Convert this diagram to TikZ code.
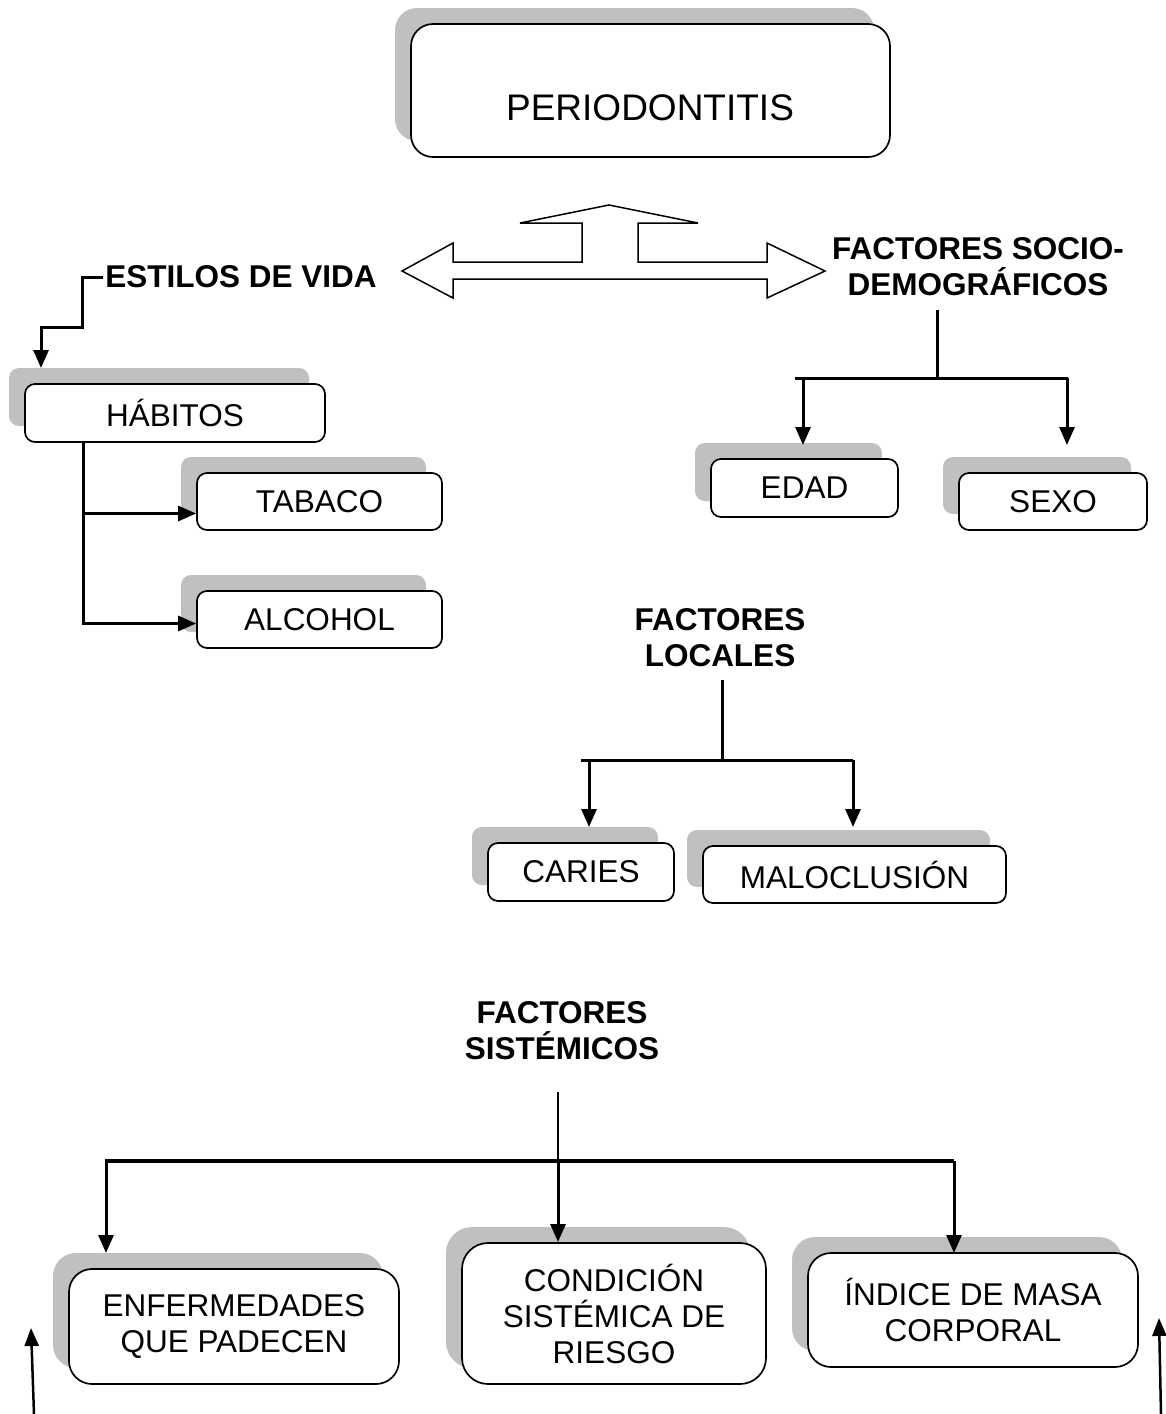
\documentclass[tikz,border=0pt]{standalone}
\usepackage{fontspec}
\setmainfont{Liberation Sans}
\usetikzlibrary{arrows.meta,shadows}
\definecolor{shadegray}{RGB}{192,192,192}
\begin{document}
\begin{tikzpicture}[x=1pt,y=-1pt,
  card/.style={draw=black, line width=1.7pt, fill=white, inner sep=0pt, align=center,
    rounded corners=10pt,
    font=\fontsize{31.5}{36}\selectfont,
    drop shadow={shadow xshift=-16pt, shadow yshift=16pt, fill=shadegray, opacity=1}},
  bigcard/.style={card, rounded corners=23pt},
  heading/.style={font=\fontsize{31.5}{36}\selectfont\bfseries, align=center, inner sep=2pt},
  link/.style={line width=3pt, line join=miter},
  thinlink/.style={line width=1.2pt},
  barlink/.style={line width=4.5pt},
  arrowlink/.style={link, -{Triangle[length=18pt,width=15pt]}},
  looselink/.style={line width=2.5pt, -{Triangle[length=18pt,width=14pt]}},
]
% page frame
\useasboundingbox (0,0) rectangle (1165,1414);
\fill[white] (0,0) rectangle (1165,1414);

% ---- top box ----
\node[card, rounded corners=22pt, minimum width=479pt, minimum height=133pt] (peri) at (650.5,90.5) {};
\node[font=\fontsize{37}{40}\selectfont, inner sep=0pt] (peritxt) at (650,108) {PERIODONTITIS};

% ---- three-way block arrow ----
\draw[line width=1.5pt, line join=miter, fill=white]
  (609,205) -- (698,223) -- (638,223) -- (638,262) -- (767,262) -- (767,243)
  -- (825,271) -- (767,298) -- (767,279) -- (453,279) -- (453,298) -- (402,271)
  -- (453,243) -- (453,262) -- (582,262) -- (582,223) -- (520,223) -- cycle;

% ---- headings ----
\node[heading] (estilos) at (241,277) {ESTILOS DE VIDA};
\node[heading] (socio) at (978,267) {FACTORES SOCIO-\\DEMOGRÁFICOS};
\node[heading] (locales) at (720,638) {FACTORES\\LOCALES};
\node[heading] (sistem) at (562,1031) {FACTORES\\SISTÉMICOS};

% ---- lifestyle branch ----
\node[card, minimum width=300pt, minimum height=58pt] (hab) at (175,413) {HÁBITOS};
\node[card, minimum width=245pt, minimum height=57pt] (tab) at (319.5,501.5) {TABACO};
\node[card, minimum width=245pt, minimum height=57pt] (alc) at (319.5,619.5) {ALCOHOL};

% ---- socio-demographic branch ----
\node[card, minimum width=187pt, minimum height=58pt] (edad) at (804.5,488) {EDAD};
\node[card, minimum width=188pt, minimum height=57pt] (sexo) at (1053,501.5) {SEXO};

% ---- local branch ----
\node[card, minimum width=186pt, minimum height=58pt] (caries) at (581,872) {CARIES};
\node[card, minimum width=303pt, minimum height=57pt] (malo) at (854.5,874.5) {MALOCLUSIÓN};

% ---- systemic branch ----
\node[bigcard, minimum width=330pt, minimum height=115pt] (enf) at (234,1326.5) {ENFERMEDADES\\QUE PADECEN};
\node[bigcard, rounded corners=26pt, minimum width=304pt, minimum height=141pt] (cond) at (614,1313.5) {CONDICIÓN\\SISTÉMICA DE\\RIESGO};
\node[bigcard, minimum width=330pt, minimum height=114pt] (ind) at (973,1310) {ÍNDICE DE MASA\\CORPORAL};

% ---- connectors: lifestyle ----
\coordinate (habin) at (41,368);
\draw[arrowlink] (estilos.west) -| (82,327) -| (habin);
\coordinate (habout) at (83,442);
\draw[arrowlink] (habout) |- ([yshift=-12pt]tab.west);
\draw[arrowlink] (habout) |- ([yshift=-4pt]alc.west);

% ---- connectors: socio-demographic ----
\coordinate (socout) at (937,310);
\coordinate (socjoin) at (937,378);
\coordinate (socbarl) at (795,378);
\coordinate (socbarr) at (1068,378);
\coordinate (edadtop) at (803,378);
\coordinate (edadin) at (803,445);
\coordinate (sexotop) at (1067,378);
\coordinate (sexoin) at (1067,445);
\draw[link] (socout) -- (socjoin);
\draw[link] (socbarl) -- (socbarr);
\draw[arrowlink] (edadtop) -- (edadin);
\draw[arrowlink] (sexotop) -- (sexoin);

% ---- connectors: local ----
\coordinate (locout) at (722,680);
\coordinate (locjoin) at (722,760);
\coordinate (locbarl) at (581,760);
\coordinate (locbarr) at (853,760);
\coordinate (cariestop) at (589,760);
\coordinate (cariesin) at (589,827);
\coordinate (malotop) at (853,760);
\coordinate (maloin) at (853,827);
\draw[link] (locout) -- (locjoin);
\draw[link] (locbarl) -- (locbarr);
\draw[arrowlink] (cariestop) -- (cariesin);
\draw[arrowlink] (malotop) -- (maloin);

% ---- connectors: systemic ----
\coordinate (sisout) at (558,1092);
\coordinate (sisjoin) at (558,1161);
\coordinate (sisbarl) at (105,1161);
\coordinate (sisbarr) at (954,1161);
\coordinate (enftop) at (106,1161);
\coordinate (enfin) at (106,1253);
\coordinate (condin) at (558,1242);
\coordinate (indtop) at (954,1161);
\coordinate (indin) at (954,1253);
\draw[thinlink] (sisout) -- (sisjoin);
\draw[barlink] (sisbarl) -- (sisbarr);
\draw[arrowlink] (enftop) -- (enfin);
\draw[arrowlink] (sisjoin) -- (condin);
\draw[arrowlink] (indtop) -- (indin);

% ---- loose arrows along the bottom edge ----
\coordinate (lfoot) at (34,1414);
\coordinate (lhead) at (31,1328);
\coordinate (rfoot) at (1161,1414);
\coordinate (rhead) at (1159,1318);
\draw[looselink] (lfoot) -- (lhead);
\draw[looselink] (rfoot) -- (rhead);
\end{tikzpicture}
\end{document}
